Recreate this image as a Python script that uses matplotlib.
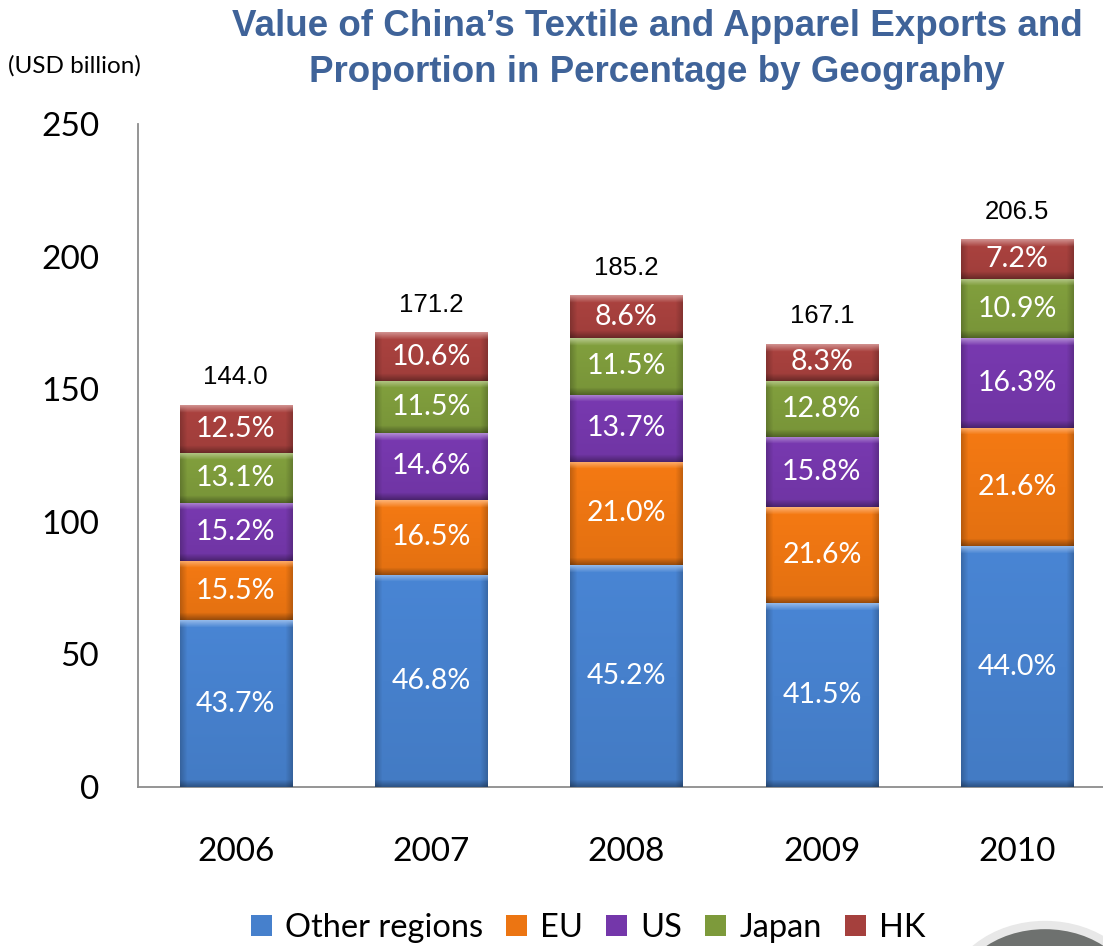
import numpy as np
import matplotlib
matplotlib.use("Agg")
import matplotlib.pyplot as plt
from matplotlib.patches import Patch, Ellipse
from matplotlib.colors import to_rgb

# Export values (USD billion) and regional shares (%)
years = ["2006", "2007", "2008", "2009", "2010"]
totals = [144.0, 171.2, 185.2, 167.1, 206.5]
regions = ["Other regions", "EU", "US", "Japan", "HK"]
share_other = [43.7, 46.8, 45.2, 41.5, 44.0]
share_eu = [15.5, 16.5, 21.0, 21.6, 21.6]
share_us = [15.2, 14.6, 13.7, 15.8, 16.3]
share_japan = [13.1, 11.5, 11.5, 12.8, 10.9]
share_hk = [12.5, 10.6, 8.6, 8.3, 7.2]
shares = [share_other, share_eu, share_us, share_japan, share_hk]
colors = ["#4680CC", "#EC7512", "#7437AA", "#7D9A3B", "#A5403D"]

W, H = 1103, 946
fig = plt.figure(figsize=(W / 100, H / 100), dpi=100)
ax = fig.add_axes([138 / W, (H - 787) / H, 977 / W, (787 - 124) / H])

x = np.arange(len(years))
bar_w = 0.575
ax.set_xlim(-0.5, len(years) - 0.5)
ax.set_ylim(0, 250)


def bevel(patch, color):
    # lighter top edge, darker bottom and sides, like an embossed bar
    x0, y0 = patch.get_x(), patch.get_y()
    w, h = patch.get_width(), patch.get_height()
    p0 = ax.transData.transform((x0, y0))
    p1 = ax.transData.transform((x0 + w, y0 + h))
    nw, nh = int(abs(p1[0] - p0[0])), int(abs(p1[1] - p0[1]))
    if nw < 2 or nh < 2:
        return
    base = np.array(to_rgb(color))
    img = np.ones((nh, nw, 3)) * base
    yy, xx = np.mgrid[0:nh, 0:nw]
    b = 7.0
    top = np.clip(1 - yy / b, 0, 1)
    bot = np.clip(1 - (nh - 1 - yy) / b, 0, 1)
    side = np.clip(1 - np.minimum(xx, nw - 1 - xx) / b, 0, 1)
    img = img + (1 - img) * (0.38 * top)[..., None]
    img = img * (1 - 0.32 * bot)[..., None]
    img = img * (1 - 0.2 * side * (1 - top))[..., None]
    # soft vertical sheen across the face
    img = img * (1.04 - 0.08 * (yy / nh))[..., None]
    img = np.clip(img, 0, 1)
    ax.imshow(img, extent=(x0, x0 + w, y0, y0 + h), origin="upper",
              aspect="auto", zorder=3, interpolation="bilinear")


bottom = np.zeros(len(years))
for name, pct, col in zip(regions, shares, colors):
    vals = np.array(totals) * np.array(pct) / 100.0
    bars = ax.bar(x, vals, bar_w, bottom=bottom, color=col, zorder=2,
                  linewidth=0)
    for rect, p in zip(bars, pct):
        bevel(rect, col)
        ax.text(rect.get_x() + rect.get_width() / 2,
                rect.get_y() + rect.get_height() / 2,
                f"{p:.1f}%", ha="center", va="center", color="white",
                fontsize=20.5, family="Lato", zorder=5)
    bottom += vals

# totals above each stack
for xi, t in zip(x, totals):
    ax.annotate(f"{t:.1f}", (xi, t), xytext=(0, 20), textcoords="offset points",
                ha="center", va="center", fontsize=18.5,
                family="Liberation Sans", color="black")

ax.set_xticks(x)
ax.set_xticklabels(years)
ax.set_yticks(np.arange(0, 251, 50))
ax.tick_params(axis="both", length=0, labelsize=24)
ax.tick_params(axis="x", pad=36)
ax.tick_params(axis="y", pad=28)
for lab in ax.get_xticklabels() + ax.get_yticklabels():
    lab.set_family("Lato")

for s in ["top", "right"]:
    ax.spines[s].set_visible(False)
for s in ["left", "bottom"]:
    ax.spines[s].set_color("#8C8C8C")
    ax.spines[s].set_linewidth(1.3)

fig.text(657 / W, 1 - 27 / H, "Value of China\u2019s Textile and Apparel Exports and",
         ha="center", va="center", fontsize=26.5, fontweight="bold",
         family="Liberation Sans", color="#3F6399")
fig.text(657 / W, 1 - 72 / H, "Proportion in Percentage by Geography",
         ha="center", va="center", fontsize=26.5, fontweight="bold",
         family="Liberation Sans", color="#3F6399")
fig.text(8 / W, 1 - 66 / H, "(USD billion)", ha="left", va="center",
         fontsize=17.5, family="Lato")

handles = [Patch(facecolor=c, edgecolor="none") for c in colors]
fig.legend(handles, regions, loc="center", bbox_to_anchor=(588 / W, 1 - 928 / H),
           ncol=5, frameon=False, handlelength=0.65, handleheight=0.65,
           handletextpad=0.4, columnspacing=0.7, prop={"family": "Lato", "size": 23.5})

# round grey emblem peeking in at the lower right corner
fig.patches.append(Ellipse((1045 / W, 1 - 1000 / H), 190 / W, 150 / H,
                           transform=fig.transFigure, facecolor="#6E716F",
                           edgecolor="#E8E8E8", linewidth=6, zorder=0))

fig.savefig("out.png", dpi=100)
